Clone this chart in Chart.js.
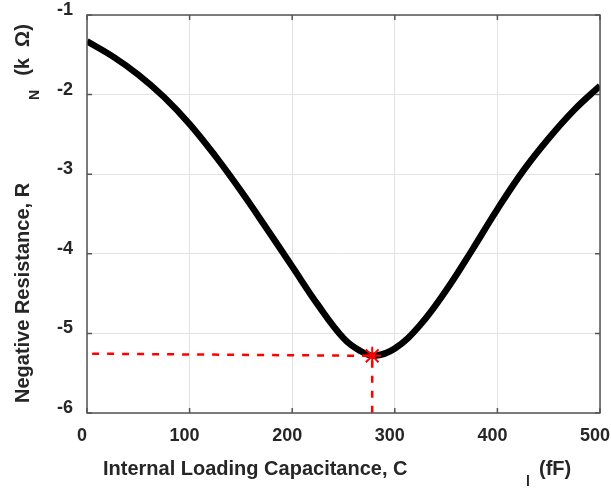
<!DOCTYPE html>
<html>
<head>
<meta charset="utf-8">
<script src="https://cdn.jsdelivr.net/npm/chart.js@4/dist/chart.umd.min.js"></script>
<style>
  html, body { margin: 0; padding: 0; background: #fff; }
  #wrap { width: 611px; height: 489px; position: relative; }
</style>
</head>
<body>
<div id="wrap"><canvas id="chart"></canvas></div>
<script>
/* negative resistance vs internal loading capacitance */

const capacitance = [0, 25, 50, 75, 100, 125, 150, 175, 200, 225, 250, 265, 280, 300, 325, 350, 375, 400, 425, 450, 475, 500];
const resistance = [-1.33, -1.52, -1.75, -2.03, -2.37, -2.77, -3.21, -3.68, -4.16, -4.64, -5.06, -5.21, -5.28, -5.19, -4.89, -4.46, -3.96, -3.44, -2.96, -2.55, -2.19, -1.89];

// red dashed guide to the minimum
const guideX = [5, 278, 278];
const guideY = [-5.255, -5.282, -6];
const minX = [278];
const minY = [-5.282];

const xTicks = [0, 100, 200, 300, 400, 500];
const yTicks = [-6, -5, -4, -3, -2, -1];

const COLORS = {
  text: '#262626',
  axis: '#555555',
  grid: '#e3e3e3',
  red: '#ff0000',
};
const FONT = "'Liberation Sans', Arial, Helvetica, sans-serif";

const toPoints = (xs, ys) => xs.map((x, i) => ({ x, y: ys[i] }));

// box frame with inward ticks, like a matlab axes
const framePlugin = {
  id: 'frame',
  afterDraw(chart) {
    const { ctx, chartArea: a, scales } = chart;
    const len = 5;
    ctx.save();
    ctx.strokeStyle = COLORS.axis;
    ctx.lineWidth = 1.5;
    ctx.strokeRect(a.left, a.top, a.right - a.left, a.bottom - a.top);
    ctx.beginPath();
    xTicks.forEach(v => {
      const px = scales.x.getPixelForValue(v);
      ctx.moveTo(px, a.bottom); ctx.lineTo(px, a.bottom - len);
      ctx.moveTo(px, a.top); ctx.lineTo(px, a.top + len);
    });
    yTicks.forEach(v => {
      const py = scales.y.getPixelForValue(v);
      ctx.moveTo(a.left, py); ctx.lineTo(a.left + len, py);
      ctx.moveTo(a.right, py); ctx.lineTo(a.right - len, py);
    });
    ctx.stroke();
    ctx.restore();
  },
};

// axis titles with their odd subscripts placed where the original has them
const titlesPlugin = {
  id: 'titles',
  afterDraw(chart) {
    const { ctx } = chart;
    ctx.save();
    ctx.fillStyle = COLORS.text;
    ctx.textBaseline = 'alphabetic';

    ctx.textAlign = 'left';
    ctx.font = `bold 20px ${FONT}`;
    ctx.fillText('Internal Loading Capacitance, C', 103, 475);
    ctx.fillText('(fF)', 539, 475);
    ctx.font = `bold 14px ${FONT}`;
    ctx.fillText('l', 526, 486);

    ctx.translate(28.5, 0);
    ctx.rotate(-Math.PI / 2);
    ctx.font = `bold 20px ${FONT}`;
    ctx.textAlign = 'left';
    ctx.fillText('Negative Resistance, R', -403, 0);
    ctx.textAlign = 'center';
    ctx.fillText('(k  \u03A9)', -50, 0);
    ctx.font = `bold 14px ${FONT}`;
    ctx.fillText('N', -95, 10);
    ctx.restore();
  },
};

new Chart(document.getElementById('chart'), {
  type: 'scatter',
  data: {
    datasets: [
      {
        data: toPoints(minX, minY),
        pointStyle: 'star',
        pointRadius: 9,
        pointBorderWidth: 2,
        pointBorderColor: COLORS.red,
        pointBackgroundColor: COLORS.red,
        order: 0,
      },
      {
        data: toPoints(guideX, guideY),
        showLine: true,
        borderColor: COLORS.red,
        borderWidth: 2.5,
        borderDash: [7, 8],
        pointRadius: 0,
        order: 1,
      },
      {
        data: toPoints(capacitance, resistance),
        showLine: true,
        borderColor: '#000',
        borderWidth: 6.5,
        tension: 0.4,
        pointRadius: 0,
        order: 2,
      },
    ],
  },
  options: {
    responsive: true,
    maintainAspectRatio: false,
    animation: false,
    events: [],
    layout: { padding: { left: 0, top: 15, right: 10, bottom: 0 } },
    plugins: {
      legend: { display: false },
      tooltip: { enabled: false },
    },
    scales: {
      x: {
        type: 'linear',
        min: 0,
        max: 500,
        afterBuildTicks: s => { s.ticks = xTicks.map(v => ({ value: v })); },
        afterFit: s => { s.height = 76; s.paddingLeft = 0; s.paddingRight = 0; },
        border: { display: false },
        grid: { color: COLORS.grid, lineWidth: 1, drawTicks: false },
        ticks: {
          color: COLORS.text,
          font: { family: FONT, size: 18, weight: 'bold' },
          padding: 12,
          labelOffset: -5,
          maxRotation: 0,
          autoSkip: false,
        },
      },
      y: {
        type: 'linear',
        min: -6,
        max: -1,
        afterBuildTicks: s => { s.ticks = yTicks.map(v => ({ value: v })); },
        afterFit: s => { s.width = 87; s.paddingTop = 0; s.paddingBottom = 0; },
        border: { display: false },
        grid: { color: COLORS.grid, lineWidth: 1, drawTicks: false },
        ticks: {
          color: COLORS.text,
          font: { family: FONT, size: 18, weight: 'bold' },
          padding: 14,
          labelOffset: -5,
          autoSkip: false,
        },
      },
    },
  },
  plugins: [framePlugin, titlesPlugin],
});
</script>
</body>
</html>
